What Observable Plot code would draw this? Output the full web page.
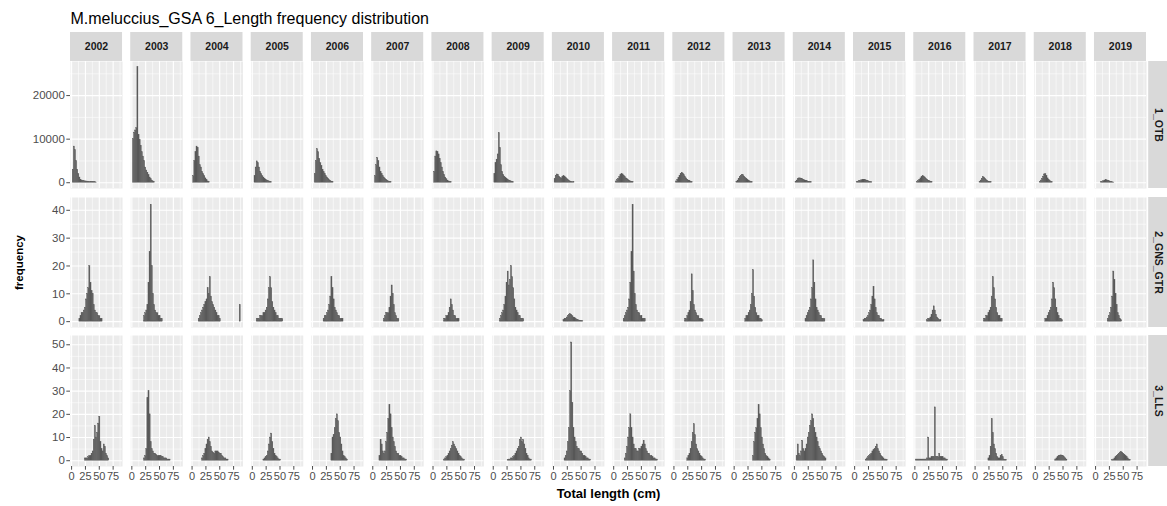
<!DOCTYPE html>
<html><head><meta charset="utf-8">
<script src="https://cdn.jsdelivr.net/npm/d3@7"></script>
<script src="https://cdn.jsdelivr.net/npm/@observablehq/plot@0.6"></script>
<style>
body{margin:0;background:#fff;}
#chart{position:relative;width:1167px;height:506px;overflow:hidden;background:#fff;}
#chart svg{position:absolute;left:0;}
</style></head><body><div id="chart"></div>
<script>
// ---------- data ----------
const title = "M.meluccius_GSA 6_Length frequency distribution";
const xLabel = "Total length (cm)";
const yLabel = "frequency";
const years = [2002, 2003, 2004, 2005, 2006, 2007, 2008, 2009, 2010, 2011, 2012, 2013, 2014, 2015, 2016, 2017, 2018, 2019];
const gears = ["1_OTB", "2_GNS_GTR", "3_LLS"];
const xTicks = [0, 25, 50, 75];
const xMinor = [12.5, 37.5, 62.5, 87.5];
const yTicksOTB = [0, 10000, 20000];
const yMinorOTB = [5000, 15000, 25000];
const yTicksGNS = [0, 10, 20, 30, 40];
const yMinorGNS = [5, 15, 25, 35];
const yTicksLLS = [0, 10, 20, 30, 40, 50];
const yMinorLLS = [5, 15, 25, 35, 45];
const binWidth = 2; // cm length classes

// per year: [first length class (cm), frequencies of successive 2 cm classes]
const otb = [
  [2, [3000, 8300, 7500, 5000, 3000, 2000, 1200, 700, 500, 400, 350, 300, 300, 250, 250, 200, 200, 150, 150, 100, 100, 50]],
  [2, [10000, 11500, 12000, 12500, 26500, 11000, 9800, 8500, 7000, 6000, 5000, 3500, 2800, 2300, 1700, 1200, 800, 500, 300, 150]],
  [2, [1500, 5000, 7000, 8300, 8000, 6000, 4000, 3500, 2500, 2000, 1500, 1000, 600, 300, 150]],
  [4, [1500, 3500, 4900, 4500, 3500, 2500, 2000, 1500, 1200, 900, 700, 500, 400, 300, 200, 100]],
  [4, [2000, 5000, 7700, 7000, 5500, 4500, 3800, 3000, 2400, 2000, 1500, 1200, 900, 600, 400, 250, 150]],
  [4, [1500, 4000, 5700, 5000, 3500, 2500, 2000, 1500, 1200, 900, 700, 500, 300, 200, 100]],
  [2, [2500, 6000, 7200, 7000, 6500, 5500, 4500, 3500, 2500, 1800, 1200, 800, 500, 300, 200, 100]],
  [2, [2000, 4500, 5300, 6500, 11400, 8000, 4000, 2500, 1800, 1400, 1100, 900, 700, 500, 400, 300, 200, 100]],
  [2, [800, 1600, 1900, 1800, 1400, 1100, 1000, 1300, 1500, 1400, 1100, 800, 600, 400, 300, 200, 150, 100]],
  [4, [300, 600, 900, 1300, 1700, 2000, 1900, 1600, 1300, 1000, 800, 600, 450, 300, 200, 100]],
  [4, [300, 700, 1100, 1600, 2000, 2300, 2100, 1700, 1300, 1000, 700, 500, 350, 200, 100]],
  [4, [200, 500, 900, 1300, 1600, 1800, 1700, 1400, 1100, 850, 600, 450, 300, 200, 100]],
  [2, [200, 500, 800, 1000, 1000, 950, 850, 700, 550, 450, 350, 250, 200, 150, 100]],
  [4, [150, 250, 350, 450, 550, 650, 700, 650, 550, 450, 350, 250, 180, 120]],
  [4, [200, 400, 700, 1000, 1300, 1500, 1400, 1200, 900, 700, 500, 350, 250, 150]],
  [8, [200, 500, 900, 1300, 1200, 900, 600, 400, 250, 150, 100]],
  [8, [200, 500, 900, 1400, 1900, 2000, 1500, 1000, 600, 350, 200, 100]],
  [10, [100, 200, 350, 500, 600, 550, 450, 350, 250, 150, 100, 50]]
];
const gns = [
  [14, [1, 2, 3, 3, 4, 5, 8, 10, 12, 20, 14, 11, 10, 6, 4, 3, 3, 2, 2, 1, 1]],
  [22, [2, 3, 4, 6, 14, 25, 42, 20, 10, 6, 4, 3, 3, 2, 2, 1, 1]],
  [12, [1, 2, 3, 4, 5, 6, 7, 8, 12, 10, 16, 9, 7, 6, 5, 4, 3, 2, 2, 1, 0, 0, 0, 0, 0, 0, 0, 0, 0, 0, 0, 0, 0, 0, 0, 0, 0, 6]],
  [8, [1, 1, 1, 2, 2, 2, 3, 3, 4, 5, 8, 12, 16, 12, 7, 5, 4, 3, 2, 2, 1, 1, 1, 1]],
  [20, [1, 2, 2, 3, 4, 6, 9, 16, 12, 8, 5, 4, 3, 2, 2, 1, 1, 1]],
  [20, [1, 2, 3, 3, 3, 5, 9, 13, 10, 6, 3, 2, 1, 1]],
  [20, [1, 1, 2, 2, 3, 5, 8, 6, 4, 2, 2, 1, 1, 1]],
  [12, [1, 2, 3, 4, 6, 9, 14, 18, 13, 15, 20, 16, 12, 8, 5, 4, 3, 2, 2, 1, 1, 1]],
  [18, [0.5, 1, 1, 1.5, 2, 2.5, 2.7, 2.5, 2, 1.5, 1.2, 1, 0.7, 0.5, 0.4, 0.3, 0.3, 0.2]],
  [18, [1, 2, 3, 4, 5, 8, 14, 25, 42, 18, 10, 6, 4, 3, 3, 2, 2, 1, 1, 1]],
  [20, [1, 1, 2, 3, 4, 7, 17, 11, 6, 4, 3, 2, 2, 1, 1, 1, 0.5]],
  [20, [1, 2, 2, 3, 4, 6, 10, 18.5, 9, 5, 3, 2, 2, 1, 1, 0.5]],
  [20, [1, 2, 3, 4, 5, 8, 12, 22, 14, 8, 5, 4, 3, 2, 2, 1, 1, 1]],
  [16, [0.5, 1, 1, 1.5, 2, 3, 4, 6, 9, 12.5, 8, 5, 3, 2, 2, 1, 1, 0.5, 0.5]],
  [22, [0.5, 1, 1, 1.5, 2.5, 4, 5.5, 4, 2.5, 1.5, 1, 0.5, 0.5]],
  [16, [1, 1, 2, 2, 3, 4, 5, 9, 16, 12, 8, 5, 3, 2, 2, 1, 1]],
  [18, [1, 1, 2, 3, 4, 5, 8, 14, 12, 8, 5, 3, 2, 1, 1, 0.5]],
  [22, [1, 2, 3, 5, 9, 18, 15, 10, 6, 3, 2, 1, 0.5]]
];
const lls = [
  [24, [1, 1, 1, 1.5, 2, 2, 3, 4, 9, 15, 10, 12, 16, 19, 8, 5, 4, 7, 6, 3, 2, 1]],
  [22, [1, 2, 5, 27, 30, 20, 8, 5, 4, 3, 3, 2.5, 2, 2, 2, 2, 1.5, 1.5, 1, 1, 1, 0.5, 0.5, 0.5]],
  [18, [1, 2, 3, 5, 7, 9, 10, 8, 6, 4, 3.5, 3, 4, 4, 4, 3.5, 3, 3, 2, 1.5, 1, 1, 0.5, 0.5]],
  [20, [0.5, 1, 1.5, 2, 4, 7, 10, 11.7, 8, 5, 3, 2, 1.5, 1, 0.5, 0.5]],
  [34, [3, 10, 11, 14, 18, 20, 17, 12, 10, 7, 4, 2, 1.5, 1, 0.5]],
  [12, [2, 9, 7, 4, 3, 4, 8, 12, 18, 24, 20, 14, 10, 8, 6, 4, 3, 3, 2, 2, 1.5, 1, 1, 0.5, 0.5]],
  [20, [0.5, 1, 1.5, 2, 3, 4, 5, 6.5, 8, 7, 6, 5, 4, 3, 2, 1.5, 1, 0.5, 0.5]],
  [26, [0.3, 0.5, 0.5, 1, 1, 1.5, 2, 3, 4, 5, 6, 9, 10, 8, 9, 7, 5, 3, 2, 1, 0.5, 0.5]],
  [20, [1, 2, 4, 8, 14, 30, 51, 25, 14, 10, 8, 6, 5, 5, 4, 4, 3, 2, 2, 1.5, 1, 1, 0.5, 0.5]],
  [20, [1, 3, 6, 10, 14, 20, 14, 10, 7, 5, 5, 4, 4, 5, 5, 6, 7, 8.6, 7, 5, 4, 3, 3, 2, 2, 1.5, 1, 1, 0.5, 0.5]],
  [24, [1, 2, 3, 5, 8, 12, 15.7, 11, 7, 5, 4, 3, 2, 1.5, 1, 0.5, 0.5]],
  [34, [2, 8, 12, 14, 18, 24, 20, 14, 10, 7, 5, 3, 2, 1.5, 1, 0.5]],
  [4, [2, 7, 3, 2, 4, 8.6, 5, 4, 5, 7, 10, 12, 15, 17, 20, 18, 14, 12, 10, 8, 6, 5, 4, 3, 2, 1.5, 1]],
  [20, [0.5, 1, 1.5, 2, 2.5, 3, 4, 4.5, 5, 6, 7, 5, 4, 3, 2, 1.5, 1, 0.5, 0.5, 0.3]],
  [2, [0.5, 0.5, 0.5, 0.5, 0.5, 0.5, 0.5, 0.5, 0.5, 0.5, 1, 10, 1, 1, 1.5, 1.5, 1.5, 23, 1.5, 1.5, 1.5, 3, 1.5, 1.5, 1.5, 1, 1, 0.5, 0.5]],
  [24, [1, 2, 6, 18, 12, 7, 5, 3, 1.5, 1, 1, 2, 2.5, 1.5, 0.5, 0.3, 0.3]],
  [36, [0.5, 1, 1.5, 2, 2.2, 2.3, 2.2, 2, 1.5, 1, 0.5]],
  [30, [0.3, 0.5, 1, 1.5, 2, 2.5, 3, 3.5, 3.8, 3.5, 3, 2.5, 2, 1.5, 1, 0.5, 0.3]]
];

// ---------- table ----------
function toRows(table) {
  const out = [];
  years.forEach((year, i) => {
    const [start, freqs] = table[i];
    freqs.forEach((f, j) => { if (f > 0) out.push({year, len: start + binWidth * j, freq: f}); });
  });
  return out;
}

// ---------- layout ----------
const W = 1167, ML = 70, MR = 21, PAD = 0.136;
const step = (W - ML - MR) / (years.length - PAD);
const bw = step * (1 - PAD), gap = step - bw;
const font = "Liberation Sans, Arial, Helvetica, sans-serif";
const stripFill = "#d9d9d9", panelFill = "#ebebeb", barFill = "#595959", tickColor = "#4d4d4d";

function row({gear, table, yDomain, yTicks, yMinor, top, marginTop, panelH, marginBottom, extra}) {
  const marks = [
    Plot.frame({fill: panelFill, stroke: "none"}),
    Plot.ruleX(xMinor, {stroke: "#fff", strokeWidth: 0.55}),
    Plot.ruleY(yMinor, {stroke: "#fff", strokeWidth: 0.55}),
    Plot.ruleX(xTicks, {stroke: "#fff", strokeWidth: 1.1}),
    Plot.ruleY(yTicks, {stroke: "#fff", strokeWidth: 1.1}),
    Plot.rect(toRows(table), {fx: "year", x1: "len", x2: d => d.len + binWidth, y1: 0, y2: "freq", fill: barFill, stroke: barFill, strokeWidth: 0.35}),
    // right strip
    Plot.rect([gear], {fx: () => years[years.length - 1], insetLeft: bw + 2.2, insetRight: -MR, fill: stripFill}),
    Plot.text([gear], {fx: () => years[years.length - 1], text: d => d, frameAnchor: "right", dx: 2.2 + (MR - 2.2) / 2, rotate: 90, textAnchor: "middle", fontSize: 10.5, fontWeight: "bold", fill: "#1a1a1a"}),
    Plot.axisY({ticks: yTicks, tickFormat: d => String(d), tickSize: 3.7, tickPadding: 2, fontSize: 11.5, color: tickColor, label: null, facetAnchor: "left"}),
    ...extra(panelH)
  ];
  const svg = Plot.plot({
    width: W, height: marginTop + panelH + marginBottom,
    marginLeft: ML, marginRight: MR, marginTop, marginBottom,
    style: {fontFamily: font, fontSize: "10.5px", background: "transparent", overflow: "visible"},
    fx: {domain: years, paddingInner: PAD, paddingOuter: 0, round: false, axis: null, label: null},
    x: {domain: [-2, 92], axis: null},
    y: {domain: yDomain, axis: null},
    marks
  });
  svg.style.top = top + "px";
  return svg;
}

const chart = document.getElementById("chart");
chart.appendChild(row({
  gear: gears[0], table: otb, yDomain: [-1325, 27825], yTicks: yTicksOTB, yMinor: yMinorOTB,
  top: 0, marginTop: 61, panelH: 127, marginBottom: 0,
  extra: (h) => [
    Plot.rect(years, {fx: d => d, insetTop: -29, insetBottom: h, fill: stripFill}),
    Plot.text(years, {fx: d => d, text: d => String(d), frameAnchor: "top", dy: -14.5, lineAnchor: "middle", fontSize: 10.5, fontWeight: "bold", fill: "#1a1a1a"}),
    Plot.text([title], {fx: () => years[0], text: d => d, frameAnchor: "top-left", textAnchor: "start", lineAnchor: "middle", dy: -43, fontSize: 16, fill: "#000"})
  ]
}));
chart.appendChild(row({
  gear: gears[1], table: gns, yDomain: [-2.1, 44.6], yTicks: yTicksGNS, yMinor: yMinorGNS,
  top: 188, marginTop: 9, panelH: 130, marginBottom: 0,
  extra: () => [
    Plot.text([yLabel], {fx: () => years[0], text: d => d, frameAnchor: "left", dx: -51, rotate: -90, textAnchor: "middle", fontSize: 11.5, fontWeight: "bold", fill: "#000"})
  ]
}));
chart.appendChild(row({
  gear: gears[2], table: lls, yDomain: [-2.5, 54], yTicks: yTicksLLS, yMinor: yMinorLLS,
  top: 327, marginTop: 8, panelH: 131, marginBottom: 40,
  extra: () => [
    Plot.axisX({ticks: xTicks, tickSize: 3.7, tickPadding: 1.5, fontSize: 11, color: tickColor, label: null}),
    Plot.text([xLabel], {fx: () => years[8], text: d => d, frameAnchor: "bottom-right", dx: gap / 2, dy: 27, textAnchor: "middle", lineAnchor: "middle", fontSize: 13, fontWeight: "bold", fill: "#000"})
  ]
}));
</script></body></html>
